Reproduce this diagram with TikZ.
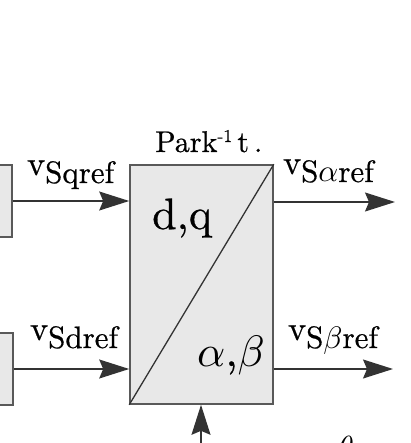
\documentclass[tikz,border=0pt]{standalone}
\usepackage{fontspec}
\setmainfont{lmroman10-regular}[Extension=.otf, FakeBold=0.6]
\usetikzlibrary{arrows.meta}
\newcommand{\vsig}[1]{{\fontsize{34}{34}\selectfont v}\raisebox{-8pt}{\fontsize{31}{31}\selectfont #1}}
\newcommand{\grsym}[2]{\scalebox{#1}{\normalsize$#2$}}
\begin{document}
\begin{tikzpicture}[x=1pt,y=-1pt,
  blk/.style={draw=black!65, line width=1.6pt, fill=black!9, inner sep=0pt},
  arr/.style={draw=black!80, line width=1.3pt, -{Stealth[length=30pt,width=19pt,inset=4pt]}},
  lbl/.style={inner sep=0pt, anchor=base west}]
\useasboundingbox (0,0) rectangle (410,443);
% left partial blocks
\node[blk, minimum width=30pt, minimum height=72pt] (L1) at (-3,201) {};
\node[blk, minimum width=30pt, minimum height=72pt] (L2) at (-2,369) {};
% main block
\node[blk, minimum width=143pt, minimum height=239pt] (P) at (201.5,284.5) {};
\draw[black!80, line width=1.3pt] (P.south west) -- (P.north east);
% texts
\node[lbl] (park) at (155,152) {\fontsize{30}{30}\selectfont Park\raisebox{10pt}{\fontsize{18}{18}\selectfont -1}\,t\,.};
\node[lbl] (dq) at (152,229) {\fontsize{44}{44}\selectfont d,q};
\node[lbl] (ab) at (197,366) {\fontsize{44}{44}\selectfont \grsym{4.4}{\alpha},\grsym{4.4}{\beta}};
\node[lbl] (vq) at (27,175) {\vsig{Sqref}};
\node[lbl] (vd) at (30,340) {\vsig{Sdref}};
\node[lbl] (va) at (283,174) {\vsig{S\grsym{3.1}{\alpha}ref}};
\node[lbl] (vb) at (288,340) {\vsig{S\grsym{3.1}{\beta}ref}};
\node[lbl] (th) at (338,458) {\grsym{3.2}{\theta}};
% connectors
\coordinate (o1) at (395,202);
\coordinate (o2) at (393,369);
\coordinate (bin) at (201,460);
\draw[arr] (L1.east) -- (L1.east -| P.west);
\draw[arr] (L2.east) -- (L2.east -| P.west);
\draw[arr] (P.east |- o1) -- (o1);
\draw[arr] (P.east |- o2) -- (o2);
\draw[arr] (bin) -- (bin |- P.south);
\end{tikzpicture}
\end{document}
